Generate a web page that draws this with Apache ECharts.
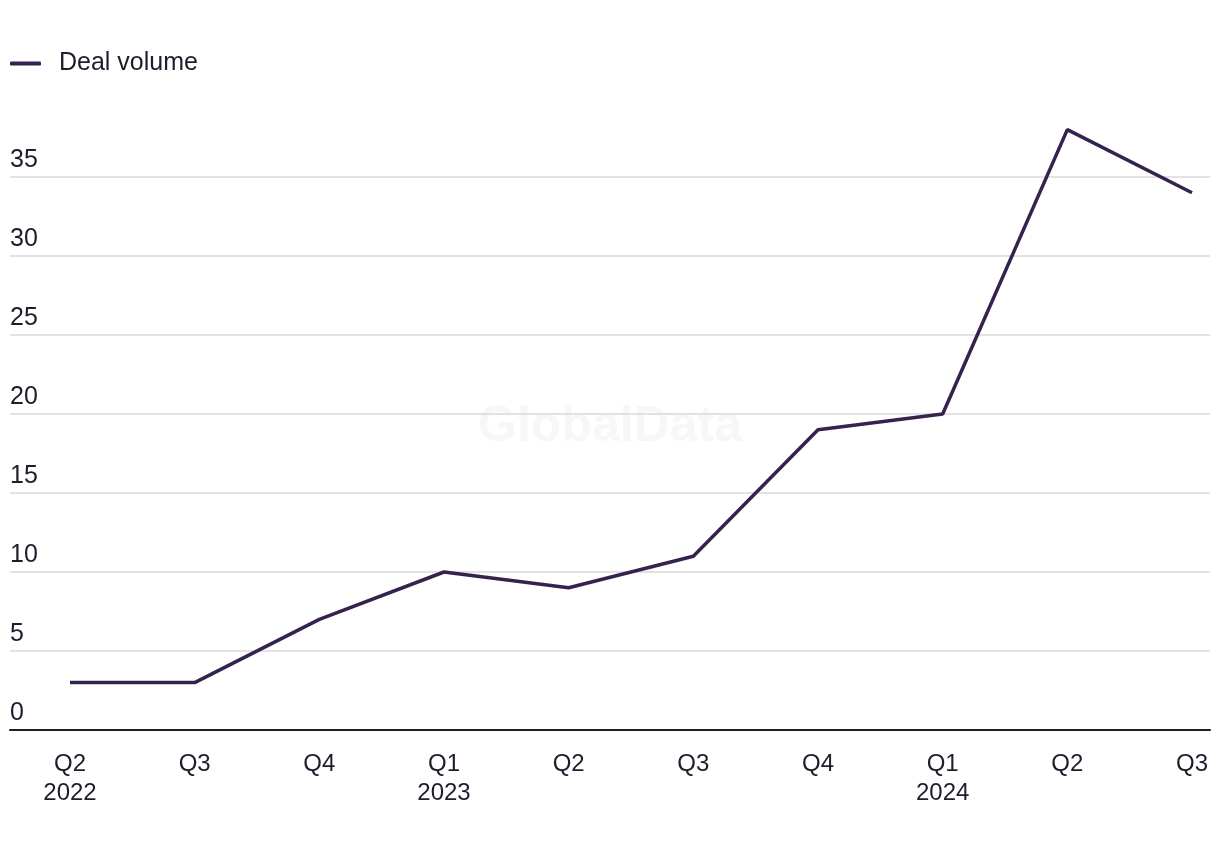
<!DOCTYPE html>
<html>
<head>
<meta charset="utf-8">
<script src="https://cdn.jsdelivr.net/npm/echarts@6/dist/echarts.min.js"></script>
<style>
html,body{margin:0;padding:0;background:#fff;}
#chart{width:1220px;height:850px;}
</style>
</head>
<body>
<div id="chart"></div>
<script>
var categories = ['Q2\n2022','Q3','Q4','Q1\n2023','Q2','Q3','Q4','Q1\n2024','Q2','Q3'];
var dealVolume = [3, 3, 7, 10, 9, 11, 19, 20, 38, 34];
var yTickMax = 35;
var yTickInterval = 5;
var seriesName = 'Deal volume';

var FONT = '"Liberation Sans", Arial, sans-serif';
var TEXT = '#1d1d2b';
var LINE = '#35224f';

var chart = echarts.init(document.getElementById('chart'));
chart.setOption({
  animation: false,
  backgroundColor: '#ffffff',
  textStyle: {fontFamily: FONT},
  graphic: [{
    type: 'text',
    left: 'center',
    top: 402,
    z: -10,
    silent: true,
    style: {text: 'GlobalData', fontFamily: FONT, fontWeight: 'bold', fontSize: 50, fill: '#f7f7f7'}
  }],
  legend: {
    left: 10,
    top: 51,
    padding: 0,
    icon: 'roundRect',
    itemWidth: 31,
    itemHeight: 4,
    textStyle: {fontFamily: FONT, fontSize: 25, color: TEXT, padding: [0, 0, 0, 13]},
    data: [seriesName]
  },
  grid: [
    {left: 10, right: 10, top: 177, bottom: 120, containLabel: false},
    {left: 70, right: 28, top: 98, bottom: 120, containLabel: false}
  ],
  xAxis: [
    {
      gridIndex: 0, type: 'value', min: 0, max: 1,
      axisLine: {show: true, lineStyle: {color: TEXT, width: 2}},
      axisTick: {show: false}, axisLabel: {show: false}, splitLine: {show: false}
    },
    {
      gridIndex: 1, type: 'category', boundaryGap: false, data: categories,
      axisLine: {show: false}, axisTick: {show: false}, splitLine: {show: false},
      axisLabel: {fontFamily: FONT, fontSize: 24, color: TEXT, lineHeight: 29, margin: 20, interval: 0}
    }
  ],
  yAxis: [
    {
      gridIndex: 0, type: 'value', min: 0, max: yTickMax, interval: yTickInterval,
      axisLine: {show: false}, axisTick: {show: false},
      splitLine: {show: true, lineStyle: {color: '#d9d9d9', width: 1.5}},
      axisLabel: {inside: true, margin: 0, fontFamily: FONT, fontSize: 25, color: TEXT,
        verticalAlign: 'bottom', padding: [0, 0, 4, 0]}
    },
    {
      gridIndex: 1, type: 'value', min: 0, max: 40, interval: 5,
      axisLine: {show: false}, axisTick: {show: false}, axisLabel: {show: false}, splitLine: {show: false}
    }
  ],
  series: [{
    name: seriesName,
    type: 'line',
    xAxisIndex: 1,
    yAxisIndex: 1,
    data: dealVolume,
    showSymbol: false,
    symbol: 'none',
    color: LINE,
    lineStyle: {color: LINE, width: 3.5},
    z: 5
  }]
});
</script>
</body>
</html>
